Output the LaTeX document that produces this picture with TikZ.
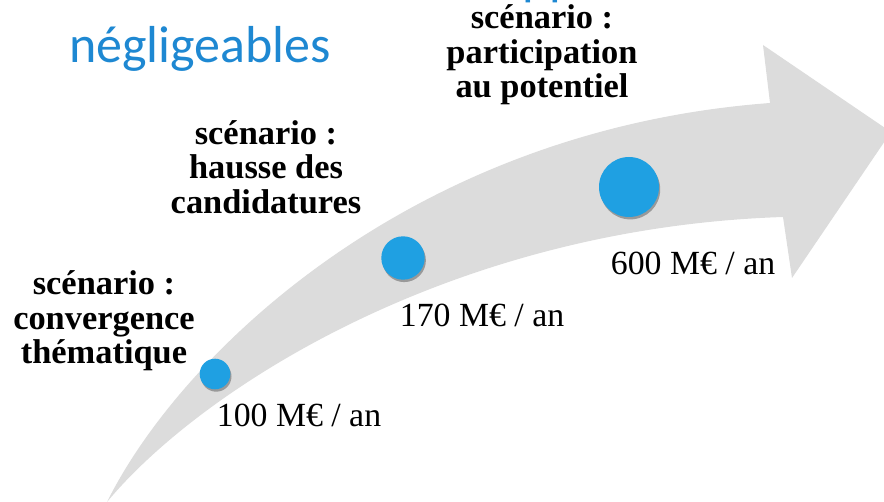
\documentclass[tikz,border=0pt]{standalone}
\usepackage{fontspec}
\setmainfont{Liberation Serif}
\newfontfamily\titlefont{Carlito}
\usepackage{tikz}
\usetikzlibrary{positioning, shadows}

\definecolor{arrowgrey}{RGB}{220,220,220}
\definecolor{dotblue}{RGB}{31,160,226}
\definecolor{titleblue}{RGB}{30,136,210}

\begin{document}
\begin{tikzpicture}[x=0.5pt, y=-0.5pt,
    scenario/.style={font=\bfseries\fontsize{17.2}{17.3}\selectfont, align=center, inner sep=0pt},
    amount/.style={font=\fontsize{16.9}{17}\selectfont, inner sep=0pt},
    dot/.style={circle, fill=dotblue, inner sep=0pt,
        drop shadow={shadow xshift=0.6pt, shadow yshift=-1.2pt, fill=black, opacity=0.3}}
    ]
        \useasboundingbox (0,0) rectangle (884,502);
        \clip (0,0) rectangle (884,502);

        % big curved arrow
        \fill[arrowgrey] (107,502) .. controls (180,355) and (410,130) .. (770,103)
            -- (763,45) -- (891,132) -- (792,278) -- (783,217)
            .. controls (450,228) and (200,390) .. (107,502) -- cycle;

        \node[font=\titlefont\fontsize{26}{30}\selectfont, text=titleblue, anchor=base, inner sep=0pt] (title) at (200,63) {négligeables};
        \node[font=\titlefont\fontsize{26}{30}\selectfont, text=titleblue, anchor=base west, inner sep=0pt] (cut) at (522,-5) {pp};

        \node[dot, minimum size=15.3pt] (d1) at (215,374) {};
        \node[dot, minimum size=21.7pt] (d2) at (403,258) {};
        \node[dot, minimum size=30pt] (d3) at (629,187) {};

        \node[scenario] (s1) at (104,321) {scénario :\\convergence\\thématique};
        \node[scenario] (s2) at (266,167) {scénario :\\hausse des\\candidatures};
        \node[scenario] (s3) at (542,55) {scénario :\\participation\\au potentiel};

        \node[amount] (m1) at (299,415) {100 M€ / an};
        \node[amount] (m2) at (482,315) {170 M€ / an};
        \node[amount] (m3) at (693,263) {600 M€ / an};
    \end{tikzpicture}
\end{document}
